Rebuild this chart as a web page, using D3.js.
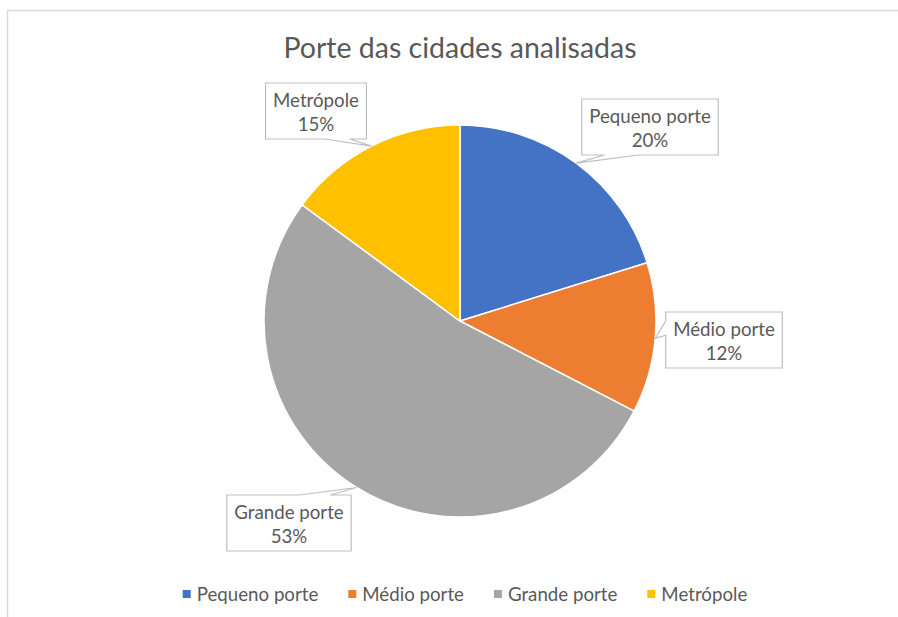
<!DOCTYPE html>
<html>
<head>
<meta charset="utf-8">
<script src="https://cdn.jsdelivr.net/npm/d3@7"></script>
<style>
  body { margin: 0; background: #fff; }
  text { font-family: Lato, "Open Sans", sans-serif; fill: #595959; }
</style>
</head>
<body>
<script>
// dados do gráfico
var categories = ["Pequeno porte", "Médio porte", "Grande porte", "Metrópole"];
var values = [20.2, 12.4, 52.5, 14.9];
var colors = ["#4472C4", "#ED7D31", "#A5A5A5", "#FFC000"];
var title = "Porte das cidades analisadas";

// centro de cada rótulo (layout)
var calloutCenter = [[650, 127], [724, 340], [289, 523], [316, 111]];

var w = 898, h = 617;
var cx = 460, cy = 321, radius = 196;

var svg = d3.select("body").append("svg")
    .attr("width", w)
    .attr("height", h);

// borda da área do gráfico
svg.append("rect")
    .attr("x", 7.5).attr("y", 10.5)
    .attr("width", 1000).attr("height", 700)
    .style("fill", "none")
    .style("stroke", "#d9d9d9")
    .style("stroke-width", 1.5);

svg.append("text")
    .attr("x", cx)
    .attr("y", 58)
    .attr("text-anchor", "middle")
    .style("font-size", "28.5px")
    .text(title);

var total = d3.sum(values);
var data = categories.map(function (c, i) {
  return { name: c, value: values[i], color: colors[i], pos: calloutCenter[i] };
});

var pie = d3.pie().sort(null).value(function (d) { return d.value; });
var arc = d3.arc().innerRadius(0).outerRadius(radius);
var arcs = pie(data);

var g = svg.append("g").attr("transform", "translate(" + [cx, cy] + ")");
g.selectAll("path")
    .data(arcs)
    .enter().append("path")
    .attr("d", arc)
    .style("fill", function (d) { return d.data.color; })
    .style("stroke", "#fff")
    .style("stroke-width", 1.5);

// caixa de rótulo com "bico" (estilo wedgeRectCallout)
function callout(bx, by, bw, bh, tx, ty) {
  var dxPos = (tx - (bx + bw / 2)) / bw,
      dyPos = (ty - (by + bh / 2)) / bh;
  var x1 = bw * (dxPos < 0 ? 2 : 7) / 12, x2 = bw * (dxPos < 0 ? 5 : 10) / 12;
  var y1 = bh * (dyPos < 0 ? 2 : 7) / 12, y2 = bh * (dyPos < 0 ? 5 : 10) / 12;
  var horiz = Math.abs(dxPos) > Math.abs(dyPos);
  var p = d3.path();
  p.moveTo(bx, by);
  if (!horiz && dyPos < 0) { p.lineTo(bx + x1, by); p.lineTo(tx, ty); p.lineTo(bx + x2, by); }
  p.lineTo(bx + bw, by);
  if (horiz && dxPos > 0) { p.lineTo(bx + bw, by + y1); p.lineTo(tx, ty); p.lineTo(bx + bw, by + y2); }
  p.lineTo(bx + bw, by + bh);
  if (!horiz && dyPos > 0) { p.lineTo(bx + x2, by + bh); p.lineTo(tx, ty); p.lineTo(bx + x1, by + bh); }
  p.lineTo(bx, by + bh);
  if (horiz && dxPos < 0) { p.lineTo(bx, by + y2); p.lineTo(tx, ty); p.lineTo(bx, by + y1); }
  p.closePath();
  return p.toString();
}

var labels = svg.append("g").attr("class", "labels");
arcs.forEach(function (a) {
  var mid = (a.startAngle + a.endAngle) / 2;
  var tx = cx + radius * Math.sin(mid),
      ty = cy - radius * Math.cos(mid);
  var lg = labels.append("g");
  var box = lg.append("path");
  var px = a.data.pos[0], py = a.data.pos[1];
  var t1 = lg.append("text")
      .attr("x", px).attr("y", py - 11)
      .attr("text-anchor", "middle")
      .attr("dominant-baseline", "central")
      .style("font-size", "18.7px")
      .text(a.data.name);
  var t2 = lg.append("text")
      .attr("x", px).attr("y", py + 13)
      .attr("text-anchor", "middle")
      .attr("dominant-baseline", "central")
      .style("font-size", "18.7px")
      .text(Math.round(a.data.value / total * 100) + "%");
  var bw = Math.max(t1.node().getComputedTextLength(), t2.node().getComputedTextLength()) + 15,
      bh = 56;
  box.attr("d", callout(px - bw / 2, py - bh / 2, bw, bh, tx, ty))
      .style("fill", "#fff")
      .style("stroke", "#bfbfbf")
      .style("stroke-width", 1.2);
});

// legenda
var legend = svg.append("g");
var lx = 0;
data.forEach(function (d) {
  var item = legend.append("g").attr("transform", "translate(" + lx + ",0)");
  item.append("rect")
      .attr("x", 0).attr("y", -4)
      .attr("width", 8).attr("height", 8)
      .style("fill", d.color);
  var t = item.append("text")
      .attr("x", 14).attr("y", 0)
      .attr("dominant-baseline", "central")
      .style("font-size", "18.7px")
      .text(d.name);
  lx += 14 + t.node().getComputedTextLength() + 30;
});
lx -= 30;
legend.attr("transform", "translate(" + [465 - lx / 2, 594] + ")");
</script>
</body>
</html>
